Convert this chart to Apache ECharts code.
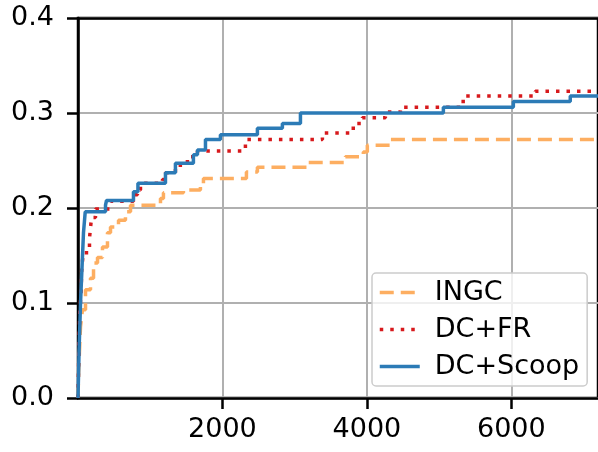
<!DOCTYPE html>
<html>
<head>
<meta charset="utf-8">
<script src="https://cdn.jsdelivr.net/npm/echarts@6/dist/echarts.min.js"></script>
<style>
  html, body { margin: 0; padding: 0; background: #fff; }
  #chart { width: 598px; height: 452px; }
</style>
</head>
<body>
<div id="chart"></div>
<script>
// step points: [x where the value changes, new value]
var ingc = [
  [0, 0], [10, 0.03], [35, 0.075], [62, 0.093], [104, 0.114], [173, 0.126],
  [215, 0.142], [270, 0.148], [339, 0.159], [408, 0.174], [450, 0.18],
  [561, 0.187], [657, 0.196], [727, 0.203], [1142, 0.21], [1183, 0.216],
  [1460, 0.219], [1695, 0.226], [1737, 0.231], [2332, 0.238], [2484, 0.243],
  [3190, 0.248], [3702, 0.254], [3951, 0.259], [4006, 0.266], [4325, 0.272],
  [7200, 0.272]
];
var dcFr = [
  [0, 0], [12, 0.05], [25, 0.09], [44, 0.114], [50, 0.133], [72, 0.153],
  [159, 0.168], [173, 0.179], [187, 0.19], [242, 0.199], [436, 0.204],
  [450, 0.207], [768, 0.214], [823, 0.219], [865, 0.226], [1170, 0.23],
  [1211, 0.237], [1349, 0.245], [1515, 0.254], [1654, 0.26], [2318, 0.272],
  [3384, 0.279], [3771, 0.284], [3854, 0.289], [3937, 0.295], [4256, 0.301],
  [4464, 0.306], [5294, 0.312], [5363, 0.318], [6332, 0.323], [7200, 0.323]
];
var dcScoop = [
  [0, 0], [15, 0.05], [35, 0.1], [58, 0.142], [76, 0.174], [100, 0.196],
  [381, 0.203], [395, 0.208], [768, 0.217], [830, 0.226], [1211, 0.237],
  [1349, 0.247], [1598, 0.256], [1654, 0.261], [1765, 0.272], [1972, 0.277],
  [2484, 0.284], [2830, 0.289], [3080, 0.3], [5059, 0.306], [6028, 0.312],
  [6816, 0.318], [7200, 0.318]
];
var xTicks = [2000, 4000, 6000];

var chart = echarts.init(document.getElementById('chart'));
var font = 'DejaVu Sans';

var option = {
  animation: false,
  textStyle: { fontFamily: font },
  grid: {
    left: 78, right: -1, top: 18, bottom: 54,
    show: true, borderColor: '#000', borderWidth: 2.5
  },
  legend: {
    orient: 'vertical',
    left: 372, top: 273,
    padding: [6, 8, 6, 6],
    itemWidth: 40, itemHeight: 14, itemGap: 10,
    backgroundColor: 'rgba(255,255,255,0.8)',
    borderColor: '#cccccc', borderWidth: 1.5, borderRadius: 4,
    itemStyle: { opacity: 0 },
    lineStyle: { width: 3.5 },
    textStyle: { fontSize: 27, color: '#000', fontFamily: font, padding: [0, 0, 0, 10] },
    data: ['INGC', 'DC+FR', 'DC+Scoop']
  },
  xAxis: [{
    type: 'value', min: 0, max: 7200, interval: 2000,
    axisLine: { show: true, lineStyle: { color: '#000', width: 2.5 } },
    axisTick: { show: true, customValues: xTicks, length: 11, lineStyle: { color: '#000', width: 2.5 } },
    axisLabel: {
      customValues: xTicks, fontSize: 27, color: '#000', margin: 18, fontFamily: font,
      formatter: function (v) { return String(v); }
    },
    splitLine: { show: true, lineStyle: { color: '#b0b0b0', width: 2 } }
  }, {
    // top spine only
    type: 'value', position: 'top', min: 0, max: 7200, z: 5,
    axisLine: { show: true, onZero: false, lineStyle: { color: '#000', width: 2.5 } },
    axisTick: { show: false }, axisLabel: { show: false }, splitLine: { show: false }
  }],
  yAxis: {
    type: 'value', min: 0, max: 0.4, interval: 0.1,
    axisLine: { show: true, lineStyle: { color: '#000', width: 2.5 } },
    axisTick: { show: true, length: 11, lineStyle: { color: '#000', width: 2.5 } },
    axisLabel: {
      fontSize: 27, color: '#000', margin: 24, fontFamily: font,
      formatter: function (v) { return v.toFixed(1); }
    },
    splitLine: { show: true, lineStyle: { color: '#b0b0b0', width: 2 } }
  },
  series: [
    {
      name: 'INGC', type: 'line', step: 'end', data: ingc,
      symbol: 'none', color: '#fdae61',
      lineStyle: { width: 3.5, type: [14, 7], color: '#fdae61' }
    },
    {
      name: 'DC+FR', type: 'line', step: 'end', data: dcFr,
      symbol: 'none', color: '#d7191c',
      lineStyle: { width: 3.5, type: [3.5, 7], color: '#d7191c' }
    },
    {
      name: 'DC+Scoop', type: 'line', step: 'end', data: dcScoop,
      symbol: 'none', color: '#2c7bb6',
      lineStyle: { width: 3.5, type: 'solid', color: '#2c7bb6' }
    }
  ]
};
chart.setOption(option);
</script>
</body>
</html>
